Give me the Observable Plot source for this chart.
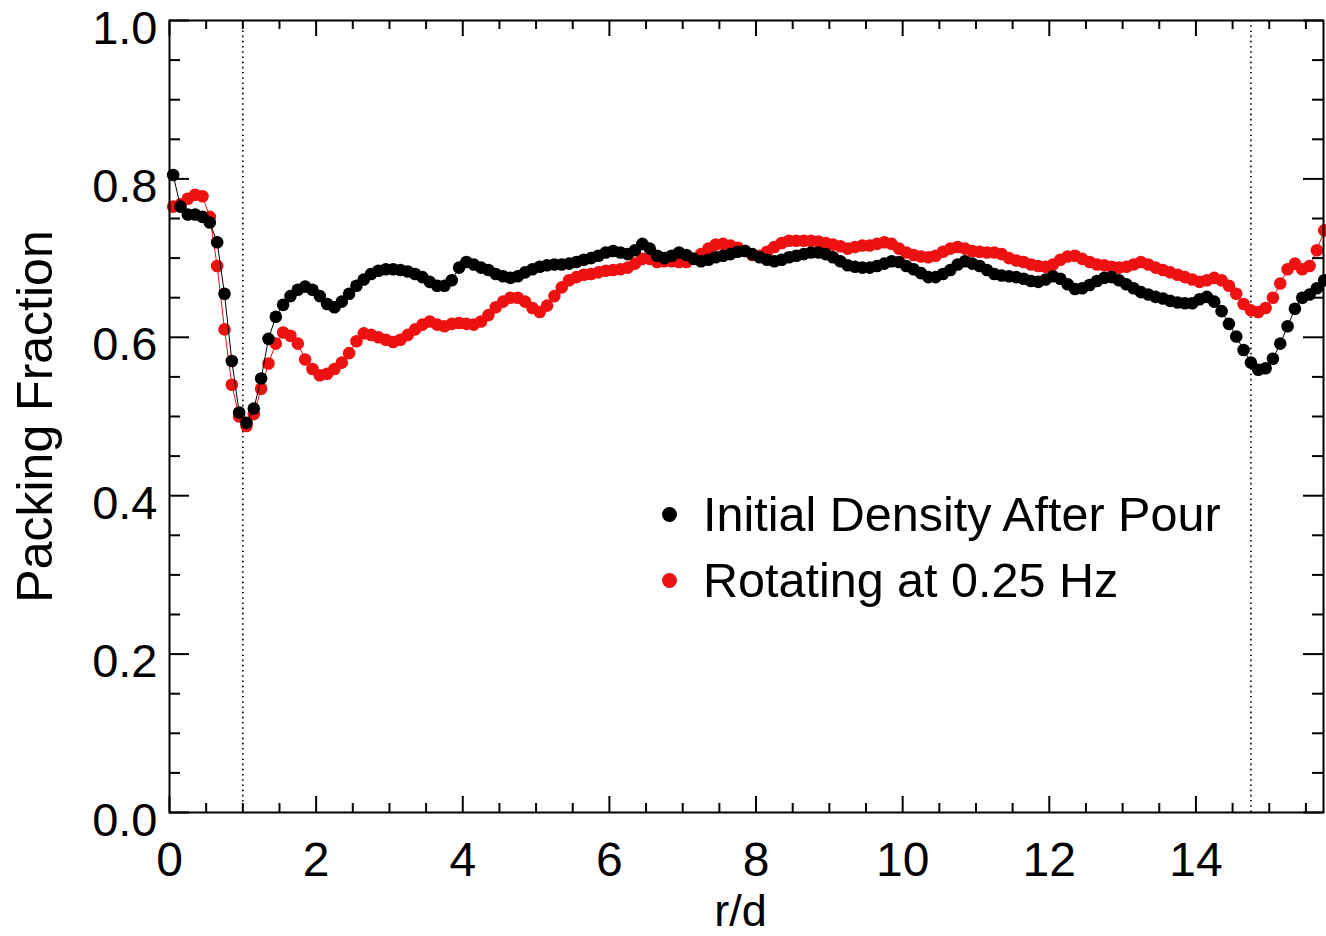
<!DOCTYPE html>
<html>
<head>
<meta charset="utf-8">
<script src="https://cdn.jsdelivr.net/npm/d3@7"></script>
<script src="https://cdn.jsdelivr.net/npm/@observablehq/plot@0.6"></script>
<style>
  html, body { margin: 0; padding: 0; background: #fff; }
  #wrap { position: relative; width: 1326px; height: 936px; overflow: hidden; font-family: "Liberation Sans", Arial, Helvetica, sans-serif; }
  #legend { position: absolute; left: 662px; top: 481px; }
  .row { display: flex; align-items: center; height: 66px; font-size: 48.5px; color: #000; white-space: nowrap; }
  .sw { width: 15px; height: 15px; border-radius: 50%; margin-right: 26px; flex: none; }
</style>
</head>
<body>
<div id="wrap"></div>
<script>
// r/d sample grid (spacing 0.1)
const nPoints = 158;
const rOverD = d3.range(nPoints).map(i => +(0.05 + i * 0.1).toFixed(2));

const initialDensity = [
  0.805, 0.765, 0.755, 0.755, 0.752, 0.745, 0.720, 0.655, 0.570, 0.505,
  0.492, 0.510, 0.548, 0.598, 0.626, 0.641, 0.652, 0.660, 0.664, 0.660,
  0.652, 0.642, 0.638, 0.645, 0.655, 0.665, 0.673, 0.680, 0.684, 0.686,
  0.686, 0.685, 0.683, 0.680, 0.676, 0.670, 0.665, 0.665, 0.672, 0.688,
  0.695, 0.692, 0.688, 0.685, 0.680, 0.677, 0.675, 0.677, 0.682, 0.686,
  0.689, 0.691, 0.692, 0.692, 0.693, 0.695, 0.698, 0.700, 0.703, 0.707,
  0.709, 0.707, 0.705, 0.710, 0.718, 0.712, 0.703, 0.700, 0.703, 0.707,
  0.704, 0.699, 0.696, 0.698, 0.701, 0.703, 0.705, 0.708, 0.709, 0.705,
  0.701, 0.698, 0.696, 0.698, 0.701, 0.703, 0.705, 0.707, 0.707, 0.705,
  0.701, 0.696, 0.691, 0.689, 0.688, 0.688, 0.690, 0.693, 0.696, 0.695,
  0.690, 0.686, 0.681, 0.676, 0.676, 0.680, 0.685, 0.692, 0.696, 0.693,
  0.690, 0.685, 0.680, 0.678, 0.677, 0.676, 0.674, 0.671, 0.670, 0.673,
  0.677, 0.674, 0.667, 0.661, 0.662, 0.666, 0.671, 0.675, 0.676, 0.672,
  0.667, 0.662, 0.657, 0.654, 0.651, 0.649, 0.646, 0.644, 0.643, 0.643,
  0.648, 0.651, 0.645, 0.633, 0.617, 0.601, 0.584, 0.568, 0.559, 0.561,
  0.573, 0.592, 0.614, 0.636, 0.650, 0.654, 0.662, 0.672
];

const rotating = [
  0.765, 0.768, 0.775, 0.780, 0.778, 0.752, 0.690, 0.610, 0.540, 0.500,
  0.488, 0.503, 0.535, 0.567, 0.592, 0.606, 0.602, 0.592, 0.572, 0.560,
  0.552, 0.554, 0.560, 0.568, 0.580, 0.595, 0.605, 0.603, 0.600, 0.597,
  0.594, 0.597, 0.603, 0.610, 0.616, 0.620, 0.616, 0.614, 0.617, 0.618,
  0.617, 0.616, 0.620, 0.628, 0.638, 0.645, 0.650, 0.650, 0.645, 0.637,
  0.632, 0.640, 0.652, 0.663, 0.672, 0.676, 0.679, 0.680, 0.682, 0.684,
  0.685, 0.686, 0.688, 0.693, 0.699, 0.699, 0.695, 0.696, 0.696, 0.695,
  0.695, 0.699, 0.705, 0.712, 0.717, 0.718, 0.716, 0.713, 0.709, 0.704,
  0.703, 0.708, 0.714, 0.719, 0.722, 0.722, 0.722, 0.722, 0.721, 0.719,
  0.717, 0.715, 0.712, 0.714, 0.716, 0.716, 0.718, 0.720, 0.718, 0.712,
  0.707, 0.704, 0.702, 0.701, 0.703, 0.708, 0.712, 0.714, 0.712, 0.709,
  0.708, 0.707, 0.707, 0.705, 0.700, 0.697, 0.695, 0.692, 0.690, 0.689,
  0.692, 0.698, 0.702, 0.703, 0.699, 0.695, 0.692, 0.691, 0.689, 0.688,
  0.689, 0.692, 0.695, 0.692, 0.688, 0.685, 0.682, 0.679, 0.676, 0.673,
  0.670, 0.672, 0.675, 0.672, 0.665, 0.655, 0.642, 0.634, 0.632, 0.637,
  0.650, 0.668, 0.686, 0.693, 0.686, 0.690, 0.710, 0.735
];

const seriesNames = ["Initial Density After Pour", "Rotating at 0.25 Hz"];
const seriesColors = ["#000000", "#ee1111"];

const xMajorTicks = [0, 2, 4, 6, 8, 10, 12, 14];
const xMinorTicks = [0.5, 1, 1.5, 2.5, 3, 3.5, 4.5, 5, 5.5, 6.5, 7, 7.5, 8.5, 9, 9.5, 10.5, 11, 11.5, 12.5, 13, 13.5, 14.5, 15, 15.5];
const yMajorTicks = [0, 0.2, 0.4, 0.6, 0.8, 1.0];
const yMinorTicks = [0.05, 0.1, 0.15, 0.25, 0.3, 0.35, 0.45, 0.5, 0.55, 0.65, 0.7, 0.75, 0.85, 0.9, 0.95];
const wallLines = [1.0, 14.75];
const xLabel = "r/d";
const yLabel = "Packing Fraction";

const dataInitial = rOverD.map((x, i) => ({x, y: initialDensity[i]}));
const dataRotating = rOverD.map((x, i) => ({x, y: rotating[i]}));

const W = 1326, H = 936;
const mL = 169, mR = 3, mT = 20, mB = 124;
const fw = W - mL - mR, fh = H - mT - mB;
const fs = 47;

const chart = Plot.plot({
  width: W, height: H,
  marginLeft: mL, marginRight: mR, marginTop: mT, marginBottom: mB,
  x: {domain: [0, 15.74]},
  y: {domain: [0, 1]},
  style: {fontFamily: '"Liberation Sans", Arial, Helvetica, sans-serif', color: "#000", background: "#fff", overflow: "visible"},
  marks: [
    Plot.ruleX(wallLines, {x: d => d, stroke: "#000", strokeWidth: 1.6, strokeDasharray: "1.6,3.6"}),
    Plot.line(dataRotating, {x: "x", y: "y", stroke: seriesColors[1], strokeWidth: 1}),
    Plot.dot(dataRotating, {x: "x", y: "y", r: 6.3, fill: seriesColors[1], stroke: "none"}),
    Plot.line(dataInitial, {x: "x", y: "y", stroke: seriesColors[0], strokeWidth: 1}),
    Plot.dot(dataInitial, {x: "x", y: "y", r: 6.3, fill: seriesColors[0], stroke: "none"}),
    // inward ticks on all four sides
    Plot.tickX(xMajorTicks, {x: d => d, insetTop: fh - 16, stroke: "#000", strokeWidth: 2}),
    Plot.tickX(xMinorTicks, {x: d => d, insetTop: fh - 9, stroke: "#000", strokeWidth: 2}),
    Plot.tickX(xMajorTicks, {x: d => d, insetBottom: fh - 16, stroke: "#000", strokeWidth: 2}),
    Plot.tickX(xMinorTicks, {x: d => d, insetBottom: fh - 9, stroke: "#000", strokeWidth: 2}),
    Plot.tickY(yMajorTicks, {y: d => d, insetRight: fw - 20, stroke: "#000", strokeWidth: 2}),
    Plot.tickY(yMinorTicks, {y: d => d, insetRight: fw - 11, stroke: "#000", strokeWidth: 2}),
    Plot.tickY(yMajorTicks, {y: d => d, insetLeft: fw - 20, stroke: "#000", strokeWidth: 2}),
    Plot.tickY(yMinorTicks, {y: d => d, insetLeft: fw - 11, stroke: "#000", strokeWidth: 2}),
    Plot.frame({stroke: "#000", strokeWidth: 2}),
    Plot.axisX(xMajorTicks, {tickSize: 0, tickPadding: 29, fontSize: 48, label: null}),
    Plot.axisY(yMajorTicks, {tickSize: 0, tickPadding: 12, dy: 8, fontSize: fs, tickFormat: d => d.toFixed(1), label: null}),
    Plot.text([yLabel], {text: d => d, frameAnchor: "left", textAnchor: "middle", lineAnchor: "middle", dx: -134, rotate: -90, fontSize: 50, fill: "#000"}),
    Plot.text([xLabel], {text: d => d, frameAnchor: "bottom", textAnchor: "middle", lineAnchor: "middle", dy: 99, dx: -6, fontSize: 45, fill: "#000"})
  ]
});

const wrap = document.getElementById("wrap");
wrap.appendChild(chart);

const legend = document.createElement("div");
legend.id = "legend";
seriesNames.forEach((name, i) => {
  const row = document.createElement("div");
  row.className = "row";
  const sw = document.createElement("span");
  sw.className = "sw";
  sw.style.background = seriesColors[i];
  const label = document.createElement("span");
  label.textContent = name;
  row.appendChild(sw);
  row.appendChild(label);
  legend.appendChild(row);
});
wrap.appendChild(legend);
</script>
</body>
</html>
